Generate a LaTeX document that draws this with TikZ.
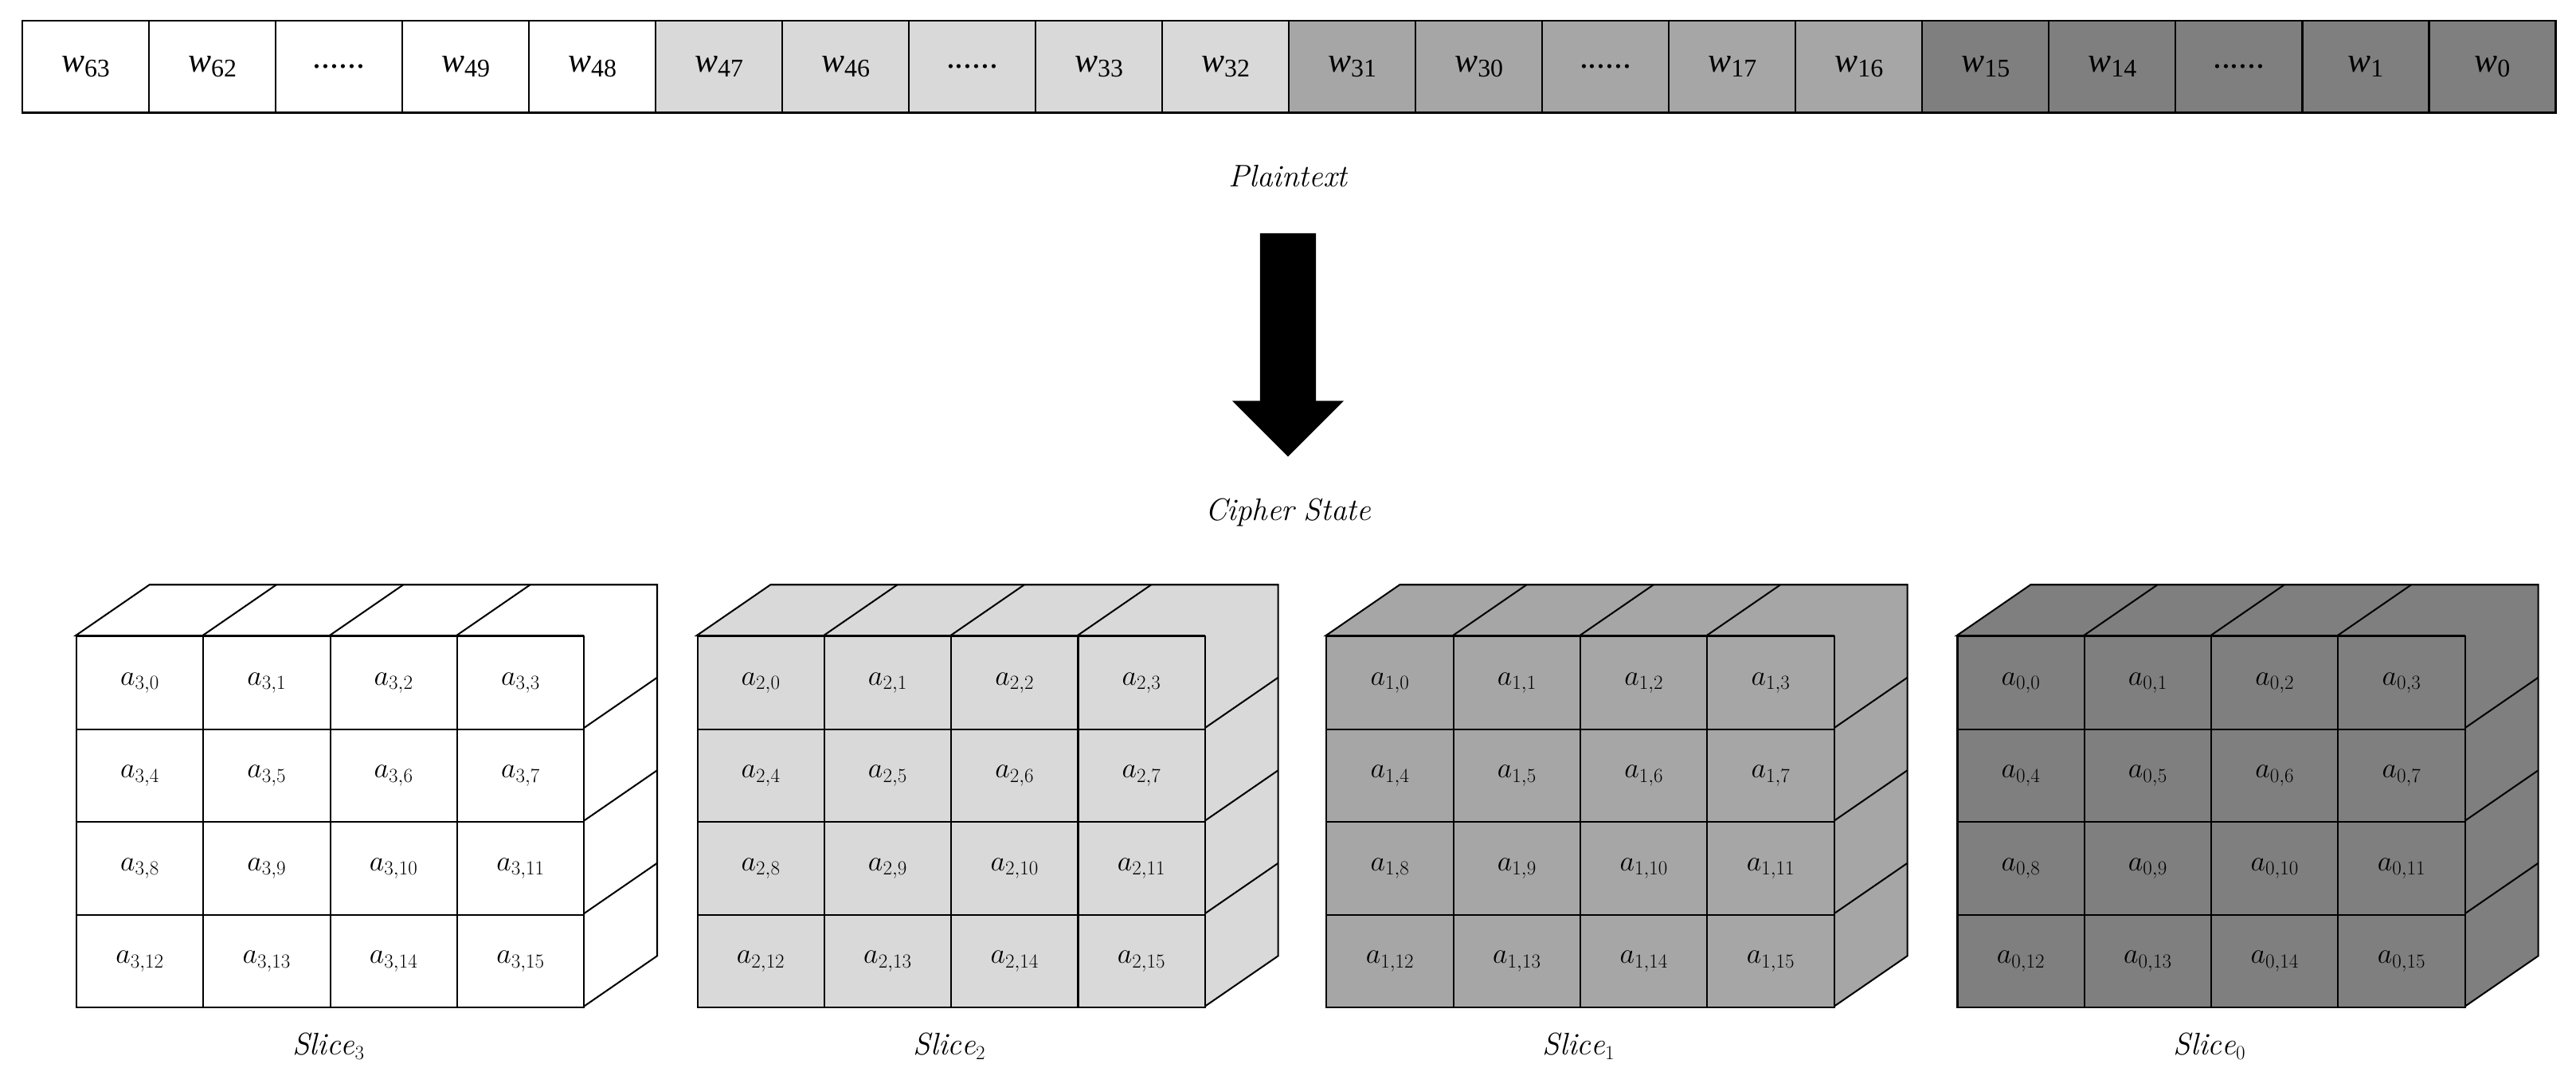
\documentclass[tikz,border=0pt]{standalone}
\usepackage{fontspec}
\newfontfamily\tms{Liberation Serif}
\newcommand\mydots{\textup{......}}
\begin{document}
\begin{tikzpicture}[x=0.05cm,y=-0.05cm,
  wcell/.style={draw,line width=1.6pt,minimum width=3.855cm,minimum height=2.8cm,inner sep=0pt,anchor=north west,font=\fontsize{30}{34}\selectfont\tms},
  acell/.style={draw,line width=1.4pt,minimum width=3.8625cm,minimum height=2.825cm,inner sep=0pt,anchor=north west,font=\fontsize{27}{30}\selectfont},
  lbl/.style={font=\fontsize{27}{30}\selectfont}]
\useasboundingbox (0,0) rectangle (1568,664);
\definecolor{c0}{HTML}{FFFFFF}\definecolor{c1}{HTML}{D9D9D9}
\definecolor{c2}{HTML}{A6A6A6}\definecolor{c3}{HTML}{7F7F7F}
% top bar
\foreach \t [count=\i from 0] in {63,62,D,49,48,47,46,D,33,32,31,30,D,17,16,15,14,D,1,0}{
  \pgfmathtruncatemacro{\g}{int(\i/5)}
  \if D\t
    \node[wcell,fill=c\g] (w\i) at ({13+\i*77.1},12) {\mydots};
  \else
    \node[wcell,fill=c\g] (w\i) at ({13+\i*77.1},12) {\textit{w}\raisebox{-0.3ex}{\fontsize{22}{24}\selectfont\t}};
  \fi
}
\node[lbl] (pt) at (784,107) {$\mathit{Plaintext}$};
\node[lbl] (cs) at (784,312) {$\mathit{Cipher\ State}$};
\fill (767,142) -- (801,142) -- (801,244) -- (818,244) -- (784,278) -- (750,244) -- (767,244) -- cycle;
% slices
\foreach \s/\x/\c in {3/46/c0,2/424/c1,1/807/c2,0/1191/c3}{
  \begin{scope}[line width=1.4pt]
  \draw[fill=\c] (\x,387) -- (\x+45,356) -- (\x+354,356) -- (\x+354,582) -- (\x+309,613) -- (\x+309,387) -- cycle;
  \foreach \k in {1,2,3} \draw (\x+\k*77.25,387) -- (\x+\k*77.25+45,356);
  \foreach \k in {1,2,3} \draw (\x+309,387+\k*56.5) -- (\x+354,356+\k*56.5);
  \end{scope}
  \foreach \r in {0,...,3}\foreach \q in {0,...,3}{
    \pgfmathtruncatemacro{\n}{\r*4+\q}
    \node[acell,fill=\c] (a\s-\n) at ({\x+\q*77.25},{387+\r*56.5}) {$a_{\s,\n}$};
  }
  \node[lbl] (sl\s) at (\x+154,637) {$\mathit{Slice}_{\s}$};
}
\end{tikzpicture}
\end{document}
